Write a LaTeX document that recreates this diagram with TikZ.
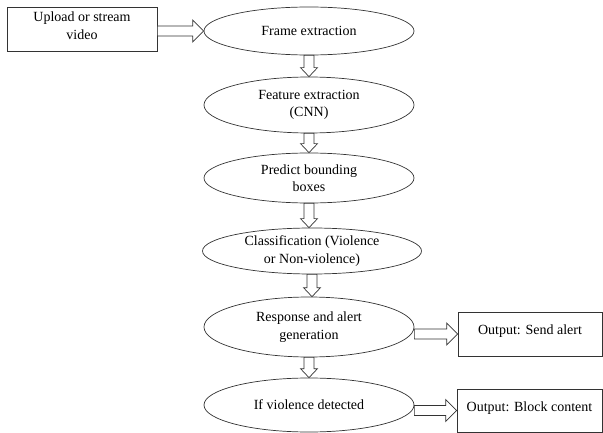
\documentclass[tikz,border=0pt]{standalone}
\usepackage{fontspec}
\setmainfont{Liberation Serif}
\usetikzlibrary{shapes.geometric, calc}
\tikzstyle{hollow} = [draw=black!80, fill=white, line width=0.7pt, line join=miter]

% hollow block arrows, from node to node
\newcommand{\rightblock}[2]{%
  \draw[hollow] let \p1=(#1.east), \p2=(#2.west) in
    (\x1,\y2+5pt) -- (\x2-11pt,\y2+5pt) -- (\x2-11pt,\y2+11pt) -- (\x2,\y2)
    -- (\x2-11pt,\y2-11pt) -- (\x2-11pt,\y2-5pt) -- (\x1,\y2-5pt) -- cycle;}
\newcommand{\downblock}[2]{%
  \draw[hollow, xshift=-3pt] let \p1=(#1.south), \p2=(#2.north) in
    (\x1-5pt,\y1) -- (\x1-5pt,\y2+9pt) -- (\x1-8.5pt,\y2+9pt) -- (\x1,\y2)
    -- (\x1+8.5pt,\y2+9pt) -- (\x1+5pt,\y2+9pt) -- (\x1+5pt,\y1) -- cycle;}

\begin{document}
\begin{tikzpicture}[x=1pt, y=1pt, nodes={font=\fontsize{14}{17.5}\selectfont}]
    \tikzstyle{stage} = [ellipse, draw=black!80, line width=0.7pt, minimum width=210pt, inner sep=1pt, align=center]
    \tikzstyle{io} = [rectangle, draw=black!80, line width=0.7pt, align=center]
    \useasboundingbox (0,0) rectangle (603,-433);

    \node[io, minimum width=150pt, minimum height=44pt, text depth=7pt](upload) at (82,-29) {Upload or stream\\video};

    \node[stage, minimum height=48pt](frames) at (309,-31) {Frame extraction};
    \node[stage, minimum height=56pt](features) at (309,-105) {Feature extraction\\(CNN)};
    \node[stage, minimum height=50pt](boxes) at (309,-178) {Predict bounding\\boxes};
    \node[stage, minimum width=219pt, minimum height=46pt](classify) at (312,-251) {Classification (Violence\\or Non-violence)};
    \node[stage, minimum height=60pt](respond) at (309,-327) {Response and alert\\generation};
    \node[stage, minimum height=54pt](detect) at (309,-405) {If violence detected};

    \node[io, minimum width=144pt, minimum height=44pt, text depth=9pt](alert) at (530,-334) {Output: Send alert};
    \node[io, minimum width=145pt, minimum height=43pt, text depth=8pt](block) at (529.5,-410.5) {Output: Block content};

    \rightblock{upload}{frames}
    \downblock{frames}{features}
    \downblock{features}{boxes}
    \downblock{boxes}{classify}
    \downblock{classify}{respond}
    \downblock{respond}{detect}
    \rightblock{respond}{alert}
    \rightblock{detect}{block}

\end{tikzpicture}
\end{document}
